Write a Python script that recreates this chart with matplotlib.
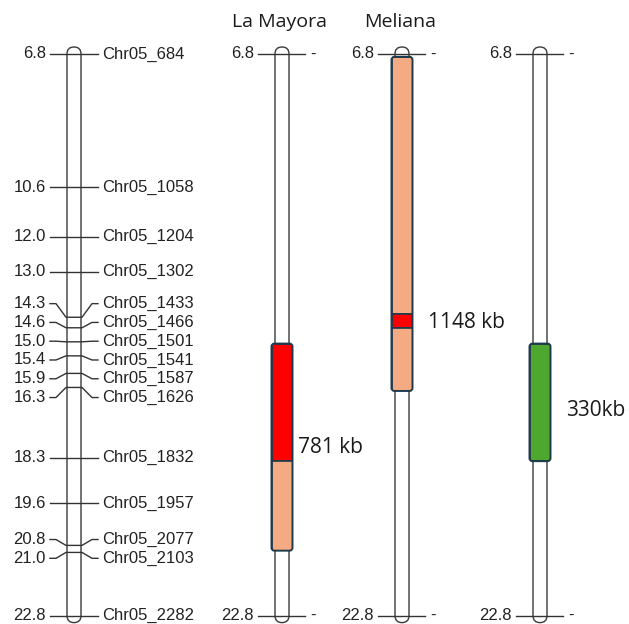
import matplotlib
matplotlib.use("Agg")
import matplotlib.pyplot as plt
from matplotlib.patches import FancyBboxPatch, Rectangle

# marker map (left chromosome), positions in Mb
marker_names = ['Chr05_684', 'Chr05_1058', 'Chr05_1204', 'Chr05_1302', 'Chr05_1433',
                'Chr05_1466', 'Chr05_1501', 'Chr05_1541', 'Chr05_1587', 'Chr05_1626',
                'Chr05_1832', 'Chr05_1957', 'Chr05_2077', 'Chr05_2103', 'Chr05_2282']
marker_pos = [6.8, 10.6, 12.0, 13.0, 14.3, 14.6, 15.0, 15.4, 15.9, 16.3,
              18.3, 19.6, 20.8, 21.0, 22.8]

chrom_start = 6.8
chrom_end = 22.8

# introgression segments for each accession: (start, end, colour)
titles = ['', 'La Mayora', 'Meliana', '']
segments = {
    1: [(15.05, 18.4, '#ff0000'), (18.4, 20.95, '#f4ab84')],
    2: [(6.88, 14.2, '#f4ab84'), (14.2, 14.6, '#ff0000'), (14.6, 16.4, '#f4ab84')],
    3: [(15.05, 18.4, '#4ea72e')],
}
size_labels = {1: ('781 kb', 18.0), 2: ('1148 kb', 14.44), 3: ('330kb', 16.95)}

# layout (pixels in x, Mb in y)
px_per_mb = 35.1
centers = [74, 282, 402, 540]
label_dx = {1: 5, 2: 15, 3: 16}
chrom_w = 14
seg_w = 21
edge_dark = '#1f3a4c'

fig = plt.figure(figsize=(6.29, 6.24), dpi=100)
ax = fig.add_axes([0, 0, 1, 1])
ax.set_xlim(0, 629)
ax.set_ylim(chrom_start + 570 / px_per_mb, chrom_start - 54 / px_per_mb)
ax.axis('off')
asp = 1 / px_per_mb
label_font = 'Liberation Sans'
title_font = 'Open Sans'
fs = 12


def draw_chrom(c):
    r = chrom_w / 2
    p = FancyBboxPatch((c - r, chrom_start - r / px_per_mb), chrom_w,
                       chrom_end - chrom_start + 2 * r / px_per_mb,
                       boxstyle='round,pad=0,rounding_size=%f' % r,
                       mutation_aspect=asp, fc='white', ec='#3a3a3a', lw=1.0, zorder=2)
    ax.add_patch(p)


def spread_labels(pos, gap=0.535):
    # push crowded labels apart, centring each crowded group on its mean
    groups = [[0]]
    for i in range(1, len(pos)):
        if pos[i] - pos[groups[-1][-1]] < gap:
            groups[-1].append(i)
        else:
            groups.append([i])
    out = list(pos)
    for g in groups:
        if len(g) > 1:
            m = sum(pos[i] for i in g) / len(g)
            for k, i in enumerate(g):
                out[i] = m + (k - (len(g) - 1) / 2) * gap
    return out


# left: marker map
c0 = centers[0]
draw_chrom(c0)
lab_y = spread_labels(marker_pos)
for name, y, ly in zip(marker_names, marker_pos, lab_y):
    xl, xr = c0 - chrom_w / 2, c0 + chrom_w / 2
    if abs(ly - y) < 1e-6:
        ax.plot([c0 - 24, c0 + 24], [y, y], color='#333333', lw=1, zorder=3)
    else:
        ax.plot([c0 - 24, c0 - 18, xl - 1, xr + 1, c0 + 18, c0 + 24],
                [ly, ly, y, y, ly, ly], color='#333333', lw=1, zorder=3)
    ax.text(c0 - 28, ly, '%.1f' % y, ha='right', va='center', fontsize=fs,
            family=label_font, color='#222222')
    ax.text(c0 + 28, ly, name, ha='left', va='center', fontsize=fs,
            family=label_font, color='#222222')

# accessions
for k in (1, 2, 3):
    c = centers[k]
    draw_chrom(c)
    for y in (chrom_start, chrom_end):
        ax.plot([c - 24, c + 23], [y, y], color='#333333', lw=1, zorder=3)
        ax.text(c - 28, y, '%.1f' % y, ha='right', va='center', fontsize=fs,
                family=label_font, color='#222222')
        ax.text(c + 31, y, '-', ha='center', va='center', fontsize=fs,
                family=label_font, color='#222222')
    segs = segments[k]
    s0, e0 = segs[0][0], segs[-1][1]
    outer = FancyBboxPatch((c - seg_w / 2, s0), seg_w, e0 - s0,
                           boxstyle='round,pad=0,rounding_size=3',
                           mutation_aspect=asp, fc='none', ec=edge_dark, lw=1.4, zorder=5)
    ax.add_patch(outer)
    for s, e, col in segs:
        band = Rectangle((c - seg_w / 2, s), seg_w, e - s, fc=col, ec=edge_dark,
                         lw=1.2, zorder=4)
        ax.add_patch(band)
        band.set_clip_path(outer)
    txt, ty = size_labels[k]
    ax.text(c + seg_w / 2 + label_dx[k], ty, txt, ha='left', va='center', fontsize=15,
            family=title_font, color='#1a1a1a')
    if titles[k]:
        ax.text(c - 2, chrom_start - 27 / px_per_mb, titles[k], ha='center', va='baseline',
                fontsize=14, family=title_font, color='#1a1a1a')

fig.savefig('out.png', dpi=100, facecolor='white')
